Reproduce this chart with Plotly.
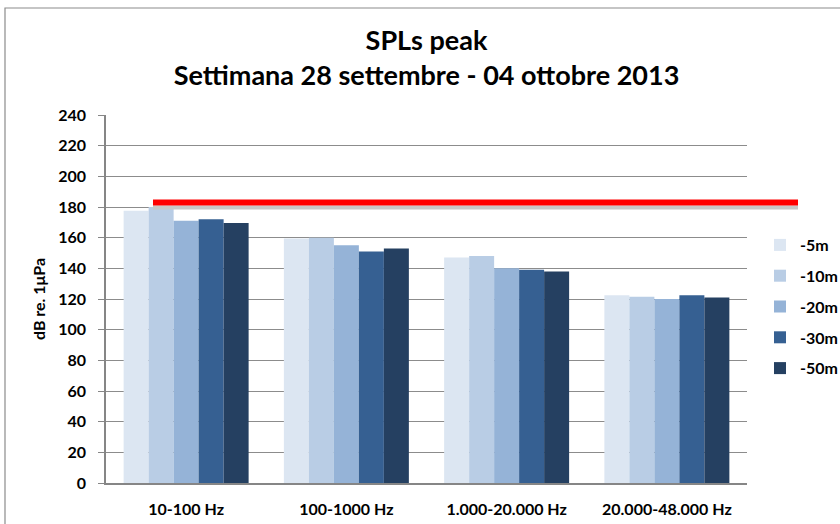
import plotly.graph_objects as go

categories = ["10-100 Hz", "100-1000 Hz", "1.000-20.000 Hz", "20.000-48.000 Hz"]
series_names = ["-5m", "-10m", "-20m", "-30m", "-50m"]
vals_5m = [177.5, 159.5, 147, 122.5]
vals_10m = [180, 160, 148, 121.5]
vals_20m = [171, 155, 140, 120]
vals_30m = [172, 151, 139, 122.5]
vals_50m = [169.5, 153, 138, 121]
threshold = 183
y_ticks = list(range(0, 241, 20))

series_values = [vals_5m, vals_10m, vals_20m, vals_30m, vals_50m]
colors = ["#DCE6F2", "#B9CDE5", "#95B3D7", "#366092", "#254061"]

W, H = 840, 524
L, R, T, B = 106, 747, 115, 483

def px_x(px):
    return (px - L) / (R - L)

def px_y(py):
    return (B - py) / (B - T)

FONT = "Lato"

fig = go.Figure()
for i, (name, vals) in enumerate(zip(series_names, series_values)):
    fig.add_trace(go.Bar(
        x=categories, y=vals, name=name,
        marker=dict(color=colors[i], line=dict(width=0)),
        legendgroup=name,
    ))

fig.update_layout(
    width=W, height=H,
    margin=dict(l=L, r=W - R, t=T, b=H - B, autoexpand=False),
    paper_bgcolor="white", plot_bgcolor="white",
    barmode="group", bargap=0.22, bargroupgap=0,
    font=dict(family=FONT, color="black"),
    title=dict(
        text="SPLs peak<br>Settimana 28 settembre - 04 ottobre 2013",
        x=0.5, xref="paper", xanchor="center", y=1 - 50 / H, yanchor="middle",
        font=dict(size=27, family=FONT, color="black", weight="bold"),
    ),
    showlegend=True,
    legend=dict(
        xref="container", yref="container",
        x=760 / W, xanchor="left", y=1 - 228 / H, yanchor="top",
        font=dict(size=16, family=FONT, color="black", weight="bold"),
        tracegroupgap=7, itemwidth=30, bgcolor="rgba(0,0,0,0)",
    ),
    xaxis=dict(
        showline=True, linecolor="#868686", linewidth=1.5,
        tickfont=dict(size=16, family=FONT, color="black", weight="bold"),
        ticks="", ticklabelstandoff=11, showgrid=False, automargin=False,
    ),
    yaxis=dict(
        range=[0, 240], tickvals=y_ticks,
        showgrid=True, gridcolor="#8C8C8C", gridwidth=1.3,
        showline=True, linecolor="#868686", linewidth=1.5,
        ticks="outside", ticklen=6, tickcolor="#868686",
        ticklabelstandoff=9,
        tickfont=dict(size=16, family=FONT, color="black", weight="bold"),
        zeroline=False, automargin=False,
        title=dict(text="dB re. 1μPa", font=dict(size=16, family=FONT, color="black", weight="bold"), standoff=9),
    ),
)

# chart border
fig.add_shape(type="rect", xref="paper", yref="paper",
              x0=px_x(5), x1=px_x(846), y0=px_y(530), y1=px_y(8),
              line=dict(color="#8C8C8C", width=1.2), layer="below")

# threshold line with subtle shadow
fig.add_shape(type="line", xref="paper", yref="y",
              x0=px_x(153), x1=px_x(798), y0=threshold - 3.3, y1=threshold - 3.3,
              line=dict(color="#C8C8C8", width=4))
fig.add_shape(type="line", xref="paper", yref="y",
              x0=px_x(153), x1=px_x(798), y0=threshold, y1=threshold,
              line=dict(color="#FF0000", width=6))

fig.write_html("out.html", config={"displayModeBar": False},
               post_script="document.body.style.margin='0';")
